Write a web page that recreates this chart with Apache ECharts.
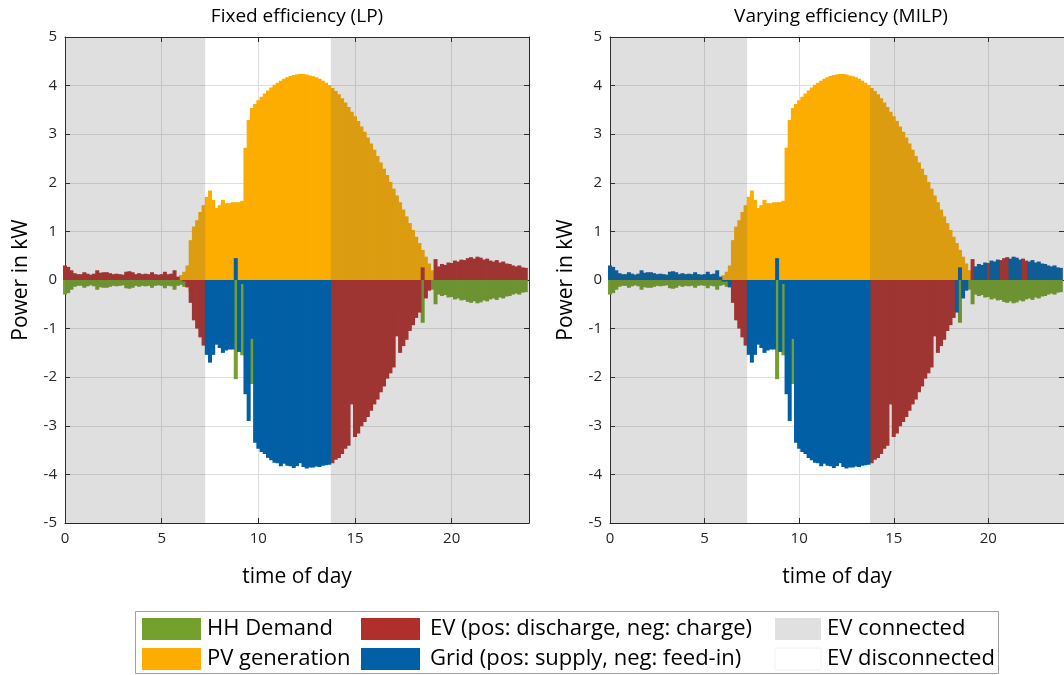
<!DOCTYPE html>
<html><head><meta charset="utf-8">
<script src="https://cdn.jsdelivr.net/npm/echarts@6/dist/echarts.min.js"></script>
<style>html,body{margin:0;padding:0;background:#fff}#c{width:1064px;height:675px}</style>
</head><body><div id="c"></div>
<script>
// 10-minute resolution, 144 steps per day (bar i centred at i/6 h)
const STEPS = 144;
const titles = ['Fixed efficiency (LP)', 'Varying efficiency (MILP)'];
const seriesNames = ['HH Demand', 'PV generation', 'EV (pos: discharge, neg: charge)', 'Grid (pos: supply, neg: feed-in)'];
const xTicks = [0, 5, 10, 15, 20];
const yTicks = [-5, -4, -3, -2, -1, 0, 1, 2, 3, 4, 5];
const evConnected = [[0, 7.25], [13.75, 24]];

const pv = [
  0,0,0,0,0,0,0,0,0,0,0,0,0,0,0,0,0,0,0,0,0,0,0,0,0,0,0,0,0,0,0,0,0,0,0,
  0.05,0.1,0.17,0.3,0.82,1.1,1.23,1.4,1.54,1.71,1.84,1.65,1.48,1.54,1.65,1.58,1.58,1.6,1.6,1.6,1.63,2.72,3.29,3.54,3.62,3.7,3.77,3.84,3.9,3.96,4.02,4.06,4.1,4.14,4.17,4.2,4.22,4.23,
  4.24,4.24,4.23,4.21,4.19,4.17,4.14,4.1,4.06,4.01,3.95,3.89,3.82,3.74,3.65,3.56,3.46,3.37,3.27,3.16,3.05,2.93,2.81,2.68,2.55,2.42,2.29,2.16,2.02,1.88,1.74,1.6,1.45,1.31,1.17,1.03,0.89,0.76,0.62,0.48,0.34,0.2,0.07,0.02,
  0,0,0,0,0,0,0,0,0,0,0,0,0,0,0,0,0,0,0,0,0,0,0,0,0,0,0
];
const hhDemand = [
  -0.3,-0.27,-0.2,-0.14,-0.12,-0.12,-0.16,-0.13,-0.11,-0.13,-0.2,-0.15,-0.16,-0.16,-0.14,-0.12,-0.13,-0.12,-0.11,-0.17,-0.18,-0.16,-0.12,-0.14,-0.12,-0.13,-0.12,-0.16,-0.12,-0.11,-0.12,-0.17,-0.12,-0.13,-0.2,-0.12,
  -0.1,-0.14,-0.15,-0.25,-0.12,-0.1,-0.1,-0.1,
  -0.08,-0.1,-0.08,-0.12,-0.1,-0.1,-0.08,-0.1,-0.12,-2.04,-0.1,-1.55,-0.12,-0.1,-2.14,-0.1,-0.08,-0.08,-0.12,-0.1,-0.09,-0.08,-0.1,-0.27,-0.1,-0.08,-0.09,-0.08,-0.1,-0.41,-0.1,-0.09,-0.08,-0.1,-0.11,-0.08,-0.1,-0.09,-0.08,
  -0.1,-0.11,-0.09,-0.1,-0.13,-0.1,-0.86,-0.1,-0.08,-0.12,-0.1,-0.09,-0.1,-0.11,-0.08,-0.1,-0.09,-0.12,-0.1,-0.08,-0.58,-0.1,-0.09,-0.08,-0.12,-0.1,-0.11,-0.09,-0.88,-0.1,-0.12,-0.2,-0.5,-0.3,
  -0.33,-0.31,-0.36,-0.35,-0.4,-0.38,-0.42,-0.41,-0.45,-0.47,-0.44,-0.48,-0.46,-0.42,-0.44,-0.4,-0.38,-0.41,-0.36,-0.38,-0.34,-0.33,-0.3,-0.28,-0.3,-0.26,-0.25
];
const evLP = [
  0.3,0.27,0.2,0.14,0.12,0.12,0.16,0.13,0.11,0.13,0.2,0.15,0.16,0.16,0.14,0.12,0.13,0.12,0.11,0.17,0.18,0.16,0.12,0.14,0.12,0.13,0.12,0.16,0.12,0.11,0.12,0.17,0.12,0.13,0.2,
  0.07,0,-0.03,-0.15,-0.47,-0.83,-1.0,-1.18,-1.35,
  0,0,0,0,0,0,0,0,0,0,0,0,0,0,0,0,0,0,0,0,0,0,0,0,0,0,0,0,0,0,0,0,0,0,0,0,0,0,0,
  -3.77,-3.7,-3.66,-3.58,-3.47,-3.41,-2.56,-3.23,-3.16,-3.01,-2.92,-2.82,-2.69,-2.56,-2.46,-2.31,-2.19,-2.03,-1.92,-1.8,-1.16,-1.5,-1.36,-1.23,-1.05,-0.93,-0.78,-0.67,0.26,-0.38,-0.22,0,0.43,0.28,
  0.33,0.31,0.36,0.35,0.4,0.38,0.42,0.41,0.45,0.47,0.44,0.48,0.46,0.42,0.44,0.4,0.38,0.41,0.36,0.38,0.34,0.33,0.3,0.28,0.3,0.26,0.25
];
const gridLP = [
  0,0,0,0,0,0,0,0,0,0,0,0,0,0,0,0,0,0,0,0,0,0,0,0,0,0,0,0,0,0,0,0,0,0,0,0,0,0,0,0,0,0,0,0,
  -1.54,-1.7,-1.54,-1.33,-1.4,-1.5,-1.45,-1.43,-1.43,0.45,-1.48,-0.08,-2.35,-2.9,-1.21,-3.35,-3.47,-3.54,-3.58,-3.66,-3.71,-3.76,-3.77,-3.83,-3.78,-3.82,-3.83,-3.87,-3.83,-3.77,-3.85,-3.88,-3.86,-3.86,-3.84,-3.85,-3.82,-3.81,-3.8,
  0,0,0,0,0,0,0,0,0,0,0,0,0,0,0,0,0,0,0,0,0,0,0,0,0,0,0,0,0,0,0,0,0,0,0,0,0,0,0,0,0,0,0,0,0,0,0,0,0,0,0,0,0,0,0,0,0,0,0,0,0
];
const evMILP = [
  0,0,0,0,0,0,0,0,0,0,0,0,0,0,0,0,0,0,0,0,0,0,0,0,0,0,0,0,0,0,0,0,0,0,0,0,0,0,0,
  -0.47,-0.83,-1.0,-1.18,-1.35,
  0,0,0,0,0,0,0,0,0,0,0,0,0,0,0,0,0,0,0,0,0,0,0,0,0,0,0,0,0,0,0,0,0,0,0,0,0,0,0,
  -3.77,-3.7,-3.66,-3.58,-3.47,-3.41,-2.56,-3.23,-3.16,-3.01,-2.92,-2.82,-2.69,-2.56,-2.46,-2.31,-2.19,-2.03,-1.92,-1.8,-1.16,-1.5,-1.36,-1.23,-1.05,-0.93,-0.78,
  0,0,0,0,0,
  0.43,0,0,0,0,0.35,0,0,0,0.41,0.45,0.47,0,0,0,0,0.44,0.4,
  0,0,0,0,0,0,0,0,0,0,0
];
const gridMILP = [
  0.3,0.27,0.2,0.14,0.12,0.12,0.16,0.13,0.11,0.13,0.2,0.15,0.16,0.16,0.14,0.12,0.13,0.12,0.11,0.17,0.18,0.16,0.12,0.14,0.12,0.13,0.12,0.16,0.12,0.11,0.12,0.17,0.12,0.13,0.2,
  0.07,-0.03,-0.03,-0.15,
  0,0,0,0,0,
  -1.54,-1.7,-1.54,-1.33,-1.4,-1.5,-1.45,-1.43,-1.43,0.45,-1.48,-0.08,-2.35,-2.9,-1.21,-3.35,-3.47,-3.54,-3.58,-3.66,-3.71,-3.76,-3.77,-3.83,-3.78,-3.82,-3.83,-3.87,-3.83,-3.77,-3.85,-3.88,-3.86,-3.86,-3.84,-3.85,-3.82,-3.81,-3.8,
  0,0,0,0,0,0,0,0,0,0,0,0,0,0,0,0,0,0,0,0,0,0,0,0,0,0,0,
  -0.67,0.26,-0.38,-0.22,0,
  0,0.28,0.33,0.31,0.36,0,0.4,0.38,0.42,0,0,0,0.44,0.48,0.46,0.42,0,0,
  0.38,0.41,0.36,0.38,0.34,0.33,0.3,0.28,0.3,0.26,0.25
];

const colors = ['#73A12B', '#FCAD00', '#B02E2B', '#005FA5'];
const overlayColor = 'rgba(85,85,85,0.19)';
const FONT = 'Open Sans';
const AX = '#262626';

const panels = [
  { title: titles[0], ev: evLP, grid: gridLP, left: 65, width: 464 },
  { title: titles[1], ev: evMILP, grid: gridMILP, left: 610, width: 462 }
];
const times = Array.from({ length: STEPS }, (_, i) => i / 6);
const pair = arr => times.map((t, i) => [t, arr[i]]);

const grids = [], xAxes = [], yAxes = [], series = [], graphics = [];
panels.forEach((p, k) => {
  grids.push({ left: p.left, top: 37, width: p.width, height: 486 });
  const baseX = { gridIndex: k, type: 'value', min: 0, max: 24, interval: 5 };
  const baseY = { gridIndex: k, type: 'value', min: -5, max: 5, interval: 1 };
  xAxes.push(Object.assign({}, baseX, {
    position: 'bottom',
    name: 'time of day', nameLocation: 'middle', nameGap: 44,
    nameTextStyle: { fontFamily: FONT, fontSize: 21, color: '#000' },
    axisLine: { onZero: false, lineStyle: { color: AX, width: 1 } },
    axisTick: { inside: true, length: 5, lineStyle: { color: AX } },
    axisLabel: { fontFamily: FONT, fontSize: 15, color: AX, margin: 8, showMaxLabel: false,
      formatter: v => xTicks.includes(v) ? String(v) : '' },
    splitLine: { show: true, lineStyle: { color: '#DEDEDE', width: 1 } }
  }));
  yAxes.push(Object.assign({}, baseY, {
    position: 'left',
    name: 'Power in kW', nameLocation: 'middle', nameGap: 33, nameRotate: 90,
    nameTextStyle: { fontFamily: FONT, fontSize: 21, color: '#000' },
    axisLine: { onZero: false, lineStyle: { color: AX, width: 1 } },
    axisTick: { inside: true, length: 5, lineStyle: { color: AX } },
    axisLabel: { fontFamily: FONT, fontSize: 15, color: AX, margin: 8,
      formatter: v => yTicks.includes(v) ? String(v) : '' },
    splitLine: { show: true, lineStyle: { color: '#DEDEDE', width: 1 } }
  }));
  series.push(...[hhDemand, pv, p.ev, p.grid].map((arr, j) => ({
    type: 'bar', name: seriesNames[j], xAxisIndex: k, yAxisIndex: k, stack: 'p' + k,
    data: pair(arr), barWidth: 4, itemStyle: { color: colors[j], borderWidth: 0 },
    clip: true, silent: true, z: 2
  })));
  series.push({
    type: 'custom', xAxisIndex: k, yAxisIndex: k, z: 5, silent: true, clip: true,
    encode: { x: [0, 1] }, data: evConnected,
    renderItem: (params, api) => {
      const a = api.coord([api.value(0), 5]);
      const b = api.coord([api.value(1), -5]);
      return { type: 'rect', shape: { x: a[0], y: a[1], width: b[0] - a[0], height: b[1] - a[1] },
        style: { fill: overlayColor } };
    }
  });
  graphics.push({ type: 'text', x: p.left + p.width / 2, y: 17, z: 10,
    style: { text: p.title, fontFamily: FONT, fontSize: 19, fill: '#000', textAlign: 'center', textVerticalAlign: 'middle' } });
});
// mirror axes (box with inward ticks at top/right)
panels.forEach((p, k) => {
  xAxes.push({ gridIndex: k, type: 'value', min: 0, max: 24, interval: 5, position: 'top',
    axisLine: { onZero: false, lineStyle: { color: AX } }, axisTick: { inside: true, length: 5, lineStyle: { color: AX } },
    axisLabel: { show: false }, splitLine: { show: false } });
  yAxes.push({ gridIndex: k, type: 'value', min: -5, max: 5, interval: 1, position: 'right',
    axisLine: { onZero: false, lineStyle: { color: AX } }, axisTick: { inside: true, length: 5, lineStyle: { color: AX } },
    axisLabel: { show: false }, splitLine: { show: false } });
});

// legend box (three columns, two rows)
const legendItems = [
  { label: seriesNames[0], fill: colors[0], col: 0, row: 0 },
  { label: seriesNames[1], fill: colors[1], col: 0, row: 1 },
  { label: seriesNames[2], fill: colors[2], col: 1, row: 0 },
  { label: seriesNames[3], fill: colors[3], col: 1, row: 1 },
  { label: 'EV connected', fill: '#E0E0E0', col: 2, row: 0 },
  { label: 'EV disconnected', fill: '#FFFFFF', col: 2, row: 1 }
];
const colSwatchX = [142, 361, 775];
const colSwatchW = [59, 59, 46];
const colTextX = [207, 430, 827];
const rowY = [629, 659];
graphics.push({ type: 'rect', shape: { x: 135.5, y: 611.5, width: 863, height: 62 },
  style: { fill: '#fff', stroke: '#A0A0A0', lineWidth: 1 }, z: 10 });
legendItems.forEach(it => {
  graphics.push({ type: 'rect', shape: { x: colSwatchX[it.col], y: rowY[it.row] - 11, width: colSwatchW[it.col], height: 22 },
    style: { fill: it.fill, stroke: it.fill === '#FFFFFF' ? '#F2F2F2' : null }, z: 11 });
  graphics.push({ type: 'text', x: colTextX[it.col], y: rowY[it.row], z: 11,
    style: { text: it.label, fontFamily: FONT, fontSize: 22, fill: '#000', textVerticalAlign: 'middle' } });
});

const chart = echarts.init(document.getElementById('c'), null, { renderer: 'canvas' });
chart.setOption({
  animation: false,
  grid: grids, xAxis: xAxes, yAxis: yAxes, series: series, graphic: graphics
});
</script></body></html>
